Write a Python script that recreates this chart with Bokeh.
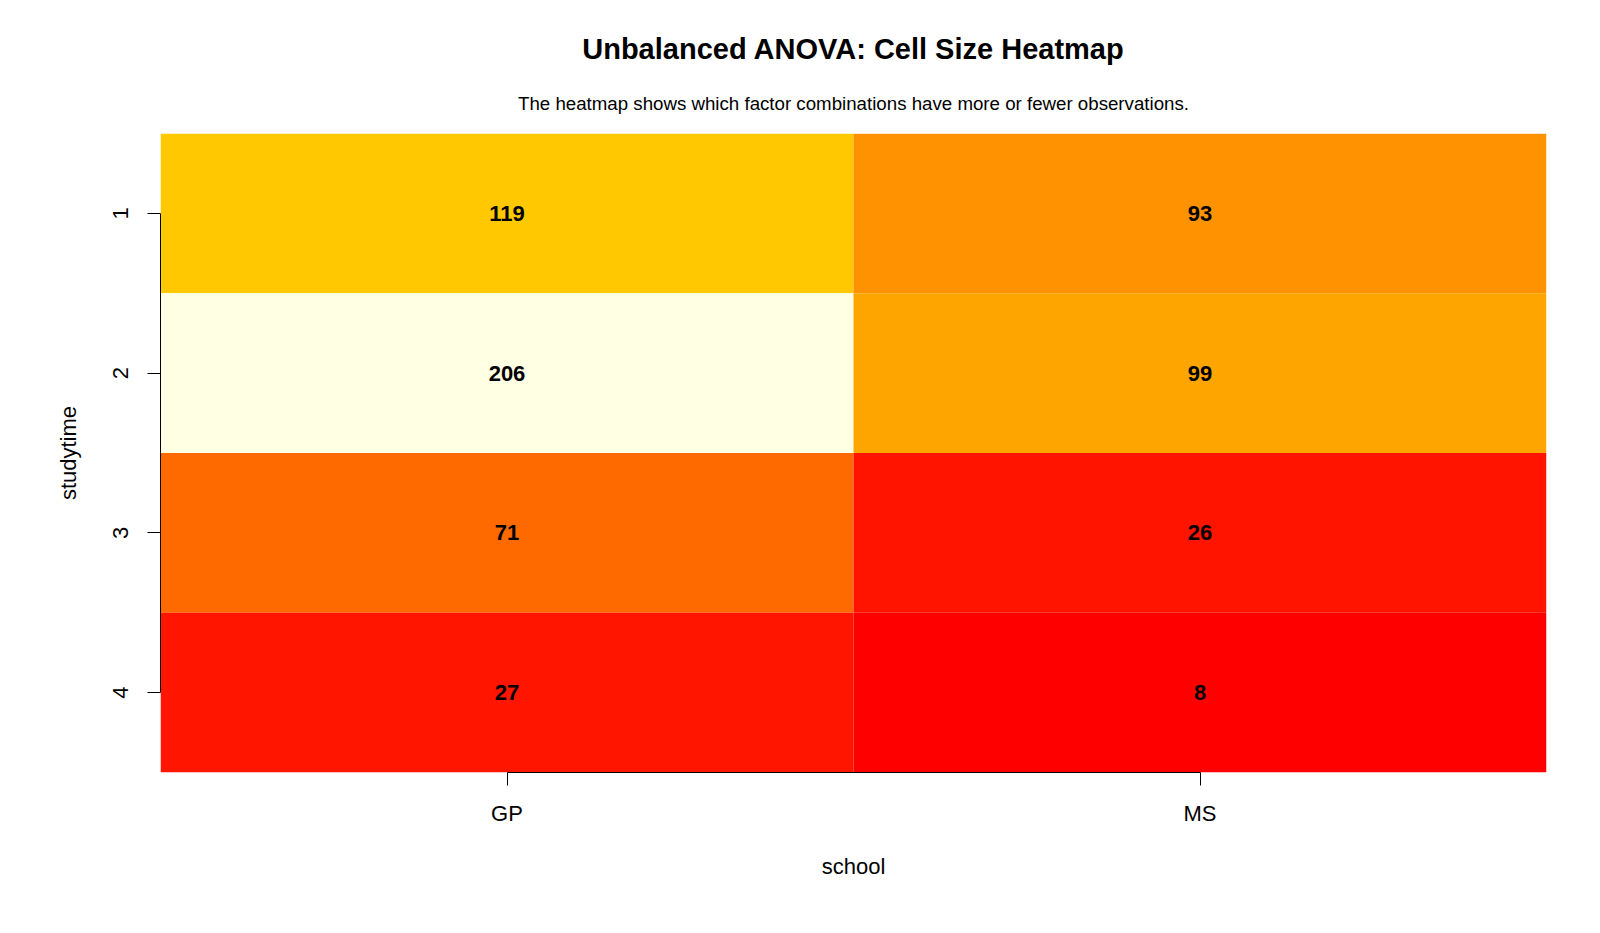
from bokeh.plotting import figure
from bokeh.models import ColumnDataSource, Range1d, FixedTicker, Title
from bokeh.core.properties import value
from bokeh.embed import file_html
from bokeh.resources import INLINE

# ---- data ----
schools = ["GP", "MS"]
studytimes = ["1", "2", "3", "4"]
counts_gp = [119, 206, 71, 27]
counts_ms = [93, 99, 26, 8]
# fill colours (heat.colors style)
colors_gp = ["#FFC800", "#FFFFE4", "#FF6A00", "#FF1500"]
colors_ms = ["#FF9200", "#FFA500", "#FF1400", "#FF0000"]

xs, ys, cnt, cols, txt = [], [], [], [], []
for si, (counts, colors) in enumerate([(counts_gp, colors_gp), (counts_ms, colors_ms)]):
    for ti, c in enumerate(counts):
        xs.append(si + 1)
        ys.append(ti + 1)
        cnt.append(c)
        cols.append(colors[ti])
        txt.append(str(c))

src = ColumnDataSource(dict(x=xs, y=ys, count=cnt, color=cols, label=txt))

FONT = "Liberation Sans"

p = figure(width=1600, height=933, output_backend="svg", toolbar_location=None,
           x_range=Range1d(0.5, len(schools) + 0.5),
           y_range=Range1d(len(studytimes) + 0.5, 0.5),
           min_border_left=160, min_border_right=54,
           min_border_top=133, min_border_bottom=161)
p.outline_line_color = None
p.xgrid.visible = False
p.ygrid.visible = False
p.background_fill_color = "white"
p.border_fill_color = "white"

p.rect(x="x", y="y", width=1, height=1, source=src, fill_color="color",
       line_color=None)
p.text(x="x", y="y", text="label", source=src, text_align="center",
       text_baseline="middle", text_font=value(FONT), text_font_style="bold",
       text_font_size="22px", text_color="black")

# axes
p.xaxis.ticker = FixedTicker(ticks=list(range(1, len(schools) + 1)))
p.xaxis.major_label_overrides = {i + 1: s for i, s in enumerate(schools)}
p.yaxis.ticker = FixedTicker(ticks=list(range(1, len(studytimes) + 1)))
p.yaxis.major_label_overrides = {i + 1: s for i, s in enumerate(studytimes)}
p.xaxis.bounds = (1, len(schools))
p.yaxis.bounds = (1, len(studytimes))
p.xaxis.axis_label = "school"
p.yaxis.axis_label = "studytime"
p.yaxis.major_label_orientation = "vertical"
for ax in (p.xaxis[0], p.yaxis[0]):
    ax.minor_tick_line_color = None
    ax.major_tick_in = 0
    ax.major_tick_out = 13
    ax.axis_line_color = "black"
    ax.major_tick_line_color = "black"
    ax.major_label_text_font = FONT
    ax.major_label_text_font_size = "22px"
    ax.major_label_text_color = "black"
    ax.axis_label_text_font = FONT
    ax.axis_label_text_font_size = "22px"
    ax.axis_label_text_font_style = "normal"
    ax.axis_label_text_color = "black"
p.xaxis.major_label_standoff = 15
p.xaxis.axis_label_standoff = 25
p.yaxis.major_label_standoff = 20
p.yaxis.axis_label_standoff = 29

# titles (subtitle added first so it sits nearer the plot)
p.add_layout(Title(text="The heatmap shows which factor combinations have more or fewer observations.",
                   align="center", text_font=FONT, text_font_size="18.7px",
                   text_font_style="normal", text_color="black", standoff=39), "above")
p.add_layout(Title(text="Unbalanced ANOVA: Cell Size Heatmap", align="center",
                   text_font=FONT, text_font_size="29px", text_font_style="bold",
                   text_color="black", standoff=13), "above")

open("out.html", "w").write(file_html(p, INLINE))
